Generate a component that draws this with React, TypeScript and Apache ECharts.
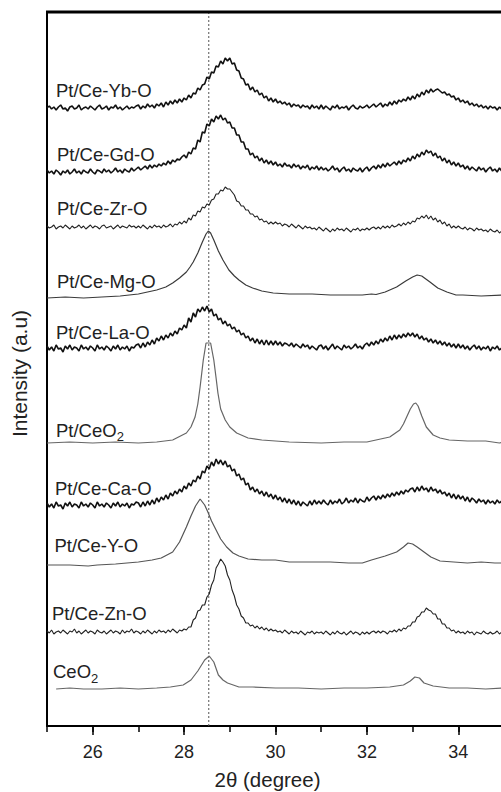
import React, { useEffect, useRef } from "react";
import * as echarts from "echarts";

// ---------- data ----------
const X_START = 25;
const X_STEP = 0.05;
const X_MIN = 25;
const X_MAX = 35;
const Y_MAX = 714;
const MAJOR_TICKS = [26, 28, 30, 32, 34];
const REF_LINE_X = 28.54;

// noisy patterns sampled every 0.05 deg from 25.0 to 35.0 (stacked intensity, a.u.)
const ybValues = [
  618,620,617,619,616,619,621,617,618,615, 619,620,617,618,621,616,618,619,617,620,
  618,616,619,621,617,618,620,616,619,618, 621,617,619,616,618,620,617,619,618,620,
  621,617,620,618,622,619,621,618,622,620, 623,619,624,621,625,622,626,623,627,624,
  628,626,631,628,633,632,638,636,641,642, 649,647,654,653,660,659,665,662,668,665,
  668,662,663,656,655,648,647,641,642,636, 639,634,636,631,633,628,630,625,628,624,
  627,623,625,622,624,621,623,619,622,620, 621,618,621,619,620,617,621,618,620,617,
  621,617,620,618,616,620,618,621,617,619, 618,620,616,619,621,618,617,620,618,619,
  621,618,620,622,619,621,623,619,622,620, 624,621,625,622,626,624,627,625,629,626,
  630,627,632,629,634,631,636,633,637,634, 636,637,635,633,634,631,632,629,630,626,
  628,624,626,623,625,621,623,620,622,619, 621,618,620,617,620,618,619,616,619,617, 618,
];
const gdValues = [
  556,553,555,552,556,554,551,555,553,556, 552,554,557,553,555,552,556,554,553,557,
  554,552,556,555,553,557,554,556,553,555, 558,554,556,553,557,555,554,558,555,557,
  559,556,558,560,557,561,558,561,559,562, 560,563,561,565,562,566,564,567,566,569,
  571,568,574,572,578,577,586,584,594,593, 602,600,607,604,610,607,611,606,608,603,
  604,598,598,591,591,584,584,577,577,571, 573,568,570,565,568,563,566,562,565,561,
  564,560,562,559,563,560,561,558,562,559, 561,557,560,558,561,556,559,557,560,556,
  559,556,558,555,557,560,556,558,554,557, 559,555,557,554,558,556,555,558,554,557,
  559,555,558,560,557,561,558,562,559,563, 560,562,564,561,565,562,566,564,568,565,
  570,567,572,569,574,571,576,573,575,570, 573,568,570,565,568,563,566,561,564,560,
  563,559,561,557,560,556,559,557,555,559, 556,558,554,557,559,555,557,554,558,555, 557,
];
const zrValues = [
  500,498,499,501,497,499,500,498,501,499, 497,500,498,499,501,498,500,497,499,501,
  498,500,499,497,500,501,498,499,500,497, 499,501,498,500,499,498,501,499,500,498,
  500,498,501,499,497,500,498,501,499,500, 498,501,499,500,502,499,502,501,504,502,
  505,503,508,506,511,510,515,514,519,518, 522,521,526,527,532,532,536,535,539,537,
  537,534,531,525,524,520,520,516,516,512, 512,509,510,506,507,504,505,502,504,502,
  504,502,503,500,502,501,499,502,500,498, 501,499,497,500,498,499,497,498,496,499,
  497,495,498,496,494,497,495,498,496,497, 495,498,496,494,497,496,498,495,497,496,
  498,496,498,499,497,499,497,500,498,500, 498,501,499,500,502,500,503,501,504,502,
  505,504,508,507,510,508,511,507,510,506, 508,504,506,502,504,500,502,498,500,498,
  500,498,497,499,496,498,497,495,498,496, 497,495,496,494,497,495,494,496,493,495, 494,
];
const laValues = [
  380,376,379,375,381,377,378,374,380,377, 381,376,379,378,375,381,377,379,376,380,
  378,375,381,377,379,376,380,378,375,380, 377,381,376,379,377,380,375,379,378,381,
  382,378,383,379,384,381,386,382,388,385, 390,386,391,388,393,390,395,392,398,396,
  401,398,408,404,413,409,417,414,419,415, 420,414,417,410,412,406,408,402,405,400,
  402,397,399,394,396,391,393,388,390,385, 388,383,387,382,386,381,386,381,385,381,
  385,381,384,380,383,382,380,383,379,382, 380,378,382,379,381,377,380,378,376,380,
  381,377,380,376,379,382,377,380,378,376, 381,378,380,377,379,382,378,380,377,381,
  383,380,384,381,385,382,387,384,388,385, 390,386,391,387,391,388,392,389,393,390,
  393,389,392,387,390,386,388,384,387,383, 386,382,385,381,384,380,383,379,382,378,
  382,378,381,377,380,376,379,381,377,380, 376,379,377,380,375,379,377,380,376,378, 377,
];
const caValues = [
  223,219,222,218,224,220,221,217,223,220, 224,219,222,221,218,224,220,222,219,223,
  221,218,224,220,222,219,223,221,218,223, 220,224,219,222,220,223,218,222,221,224,
  223,219,224,220,225,221,226,222,228,224, 229,226,231,227,233,230,235,232,237,234,
  240,237,243,240,246,244,250,247,255,253, 260,257,264,260,267,262,266,261,265,259,
  261,255,257,250,252,246,248,241,243,236, 239,234,237,232,235,230,234,229,232,227,
  231,226,229,224,228,223,227,222,226,221, 225,220,224,222,220,225,221,226,222,225,
  222,226,223,221,226,222,225,223,227,222, 224,228,223,226,224,228,223,227,225,224,
  229,225,228,230,226,230,227,231,228,232, 229,233,230,234,231,235,232,236,234,237,
  238,234,239,235,240,236,238,234,239,235, 237,233,236,232,234,230,233,228,232,227,
  231,227,230,225,229,224,228,226,223,227, 224,226,222,226,223,225,222,226,223,225, 224,
];
const znValues = [
  95,93,96,92,94,95,93,96,94,92, 95,94,97,93,95,92,94,96,93,95,
  94,92,96,94,93,95,92,94,96,93, 95,94,92,96,93,95,94,97,93,95,
  94,92,95,93,96,94,92,95,93,96, 94,95,93,96,94,97,95,93,96,95,
  97,96,99,99,106,108,115,116,121,121, 129,132,141,146,158,162,167,164,160,151,
  146,136,130,121,117,110,108,103,103,100, 101,98,100,97,99,96,98,95,97,95,
  96,94,95,93,96,94,92,95,93,94, 92,95,93,91,94,93,95,92,94,93,
  94,92,95,93,91,94,92,95,93,92, 94,91,93,95,92,94,93,91,94,92,
  94,92,94,95,93,95,93,95,94,92, 95,94,96,94,97,95,98,97,100,100,
  104,104,109,110,114,114,118,116,115,112, 112,107,107,102,102,98,98,95,96,93,
  95,93,94,92,95,93,94,91,94,93, 92,95,93,92,94,92,93,95,92,94, 93,
];

// smooth patterns as [2theta, intensity]
const mgPoints = [
  [25.0,428],[25.4,429],[25.8,428],[26.2,429],[26.6,430],[27.0,432],[27.2,434],[27.4,436],
  [27.6,439],[27.75,443],[27.9,448],[28.05,454],[28.13,459],[28.2,464],[28.3,473],[28.4,484],
  [28.48,492],[28.53,495],[28.58,493],[28.65,486],[28.75,475],[28.85,466],[28.98,456],[29.1,450],
  [29.2,446],[29.35,441],[29.5,438],[29.7,435],[29.95,433],[30.3,432],[30.8,432],[31.2,431],
  [31.6,431],[31.9,431],[32.1,432],[32.2,431.5],[32.4,434],[32.65,439],[32.85,445],[33.0,449],
  [33.1,451],[33.2,450],[33.38,444],[33.55,438],[33.75,434],[33.95,431],[34.1,431],[34.5,430],[35.0,431],
];
const ptCeO2Points = [
  [25.0,283],[25.5,284],[26.0,283],[26.5,284],[27.0,283],[27.4,284],[27.75,286],[28.05,293],
  [28.15,299],[28.24,309],[28.3,322],[28.35,339],[28.42,366],[28.48,383],[28.58,383],[28.65,366],
  [28.7,348],[28.74,333],[28.8,317],[28.9,306],[29.0,299],[29.15,293],[29.4,288],[29.7,286],
  [30.3,284],[31.0,283],[31.5,284],[32.0,284],[32.2,286],[32.5,289],[32.72,296],[32.8,302],
  [32.87,309],[32.95,317],[33.02,322],[33.07,323],[33.12,320],[33.2,310],[33.3,299],[33.45,291],
  [33.6,288],[33.8,286],[34.2,285],[34.6,285],[34.9,283],[35.0,284],
];
const yPoints = [
  [25.0,161],[25.5,161],[25.9,160],[26.1,161],[26.5,162],[27.0,164],[27.3,166],[27.5,168],
  [27.75,174],[27.9,184],[28.05,199],[28.15,210],[28.25,220],[28.35,227],[28.45,221],[28.52,214],
  [28.6,205],[28.7,196],[28.8,187],[28.93,179],[29.07,173],[29.2,170],[29.4,167],[29.7,166],
  [30.0,166],[30.3,164],[30.75,164],[31.2,164],[31.6,163],[31.9,163],[32.1,166],[32.4,170],
  [32.65,174],[32.8,179],[32.9,183],[33.0,182],[33.1,179],[33.25,174],[33.4,169],[33.6,165],
  [33.9,164],[34.2,163],[34.5,164],[34.8,163],[35.0,163],
];
const ceO2Points = [
  [25.2,37],[25.5,38],[25.8,37],[26.2,37],[26.6,38],[27.0,37],[27.4,38],[27.7,39],[27.98,41],
  [28.15,46],[28.3,55],[28.45,66],[28.55,70],[28.65,64],[28.75,51],[28.85,46],[28.95,43],[29.2,39],
  [29.5,39],[30.0,38],[30.5,38],[31.0,37],[31.5,38],[32.0,38],[32.5,39],[32.8,41],[32.95,45],
  [33.05,49],[33.15,48],[33.25,43],[33.45,40],[33.8,38],[34.2,38],[34.6,37],[35.0,38],
];

const sampleNames = [
  "Pt/Ce-Yb-O", "Pt/Ce-Gd-O", "Pt/Ce-Zr-O", "Pt/Ce-Mg-O", "Pt/Ce-La-O",
  "Pt/CeO2", "Pt/Ce-Ca-O", "Pt/Ce-Y-O", "Pt/Ce-Zn-O", "CeO2",
];
const X_TITLE = "2\u03b8 (degree)";
const Y_TITLE = "Intensity (a.u)";

// ---------- helpers ----------
const onGrid = (vals: number[]) =>
  vals.map((v, i) => [Number((X_START + i * X_STEP).toFixed(2)), v]);

const FONT = "'Liberation Sans', Arial, Helvetica, sans-serif";

const GRID_LEFT = 47;
const GRID_TOP = 12;
const GRID_W = 457;
const GRID_H = 714;

export default function App() {
  const ref = useRef<HTMLDivElement>(null);

  useEffect(() => {
    if (!ref.current) return;
    const chart = echarts.init(ref.current, null, { renderer: "svg" });

    const mk = (name: string, data: number[][], color: string, width: number, extra: any = {}) => ({
      name,
      type: "line",
      data,
      xAxisIndex: 0,
      yAxisIndex: 0,
      showSymbol: false,
      symbol: "none",
      silent: true,
      lineStyle: { color, width },
      z: 3,
      ...extra,
    });

    const series: any[] = [
      mk(sampleNames[0], onGrid(ybValues), "#111", 1.6),
      mk(sampleNames[1], onGrid(gdValues), "#111", 1.6),
      mk(sampleNames[2], onGrid(zrValues), "#222", 1.1),
      mk(sampleNames[3], mgPoints, "#3a3a3a", 1.2),
      mk(sampleNames[4], onGrid(laValues), "#111", 1.6),
      mk(sampleNames[5], ptCeO2Points, "#666", 1.2),
      mk(sampleNames[6], onGrid(caValues), "#111", 1.6),
      mk(sampleNames[7], yPoints, "#555", 1.2),
      mk(sampleNames[8], onGrid(znValues), "#222", 1.1),
      mk(sampleNames[9], ceO2Points, "#666", 1.2),
      {
        name: "reference",
        type: "line",
        xAxisIndex: 1,
        yAxisIndex: 1,
        data: [[REF_LINE_X, 0], [REF_LINE_X, 1]],
        showSymbol: false,
        symbol: "none",
        silent: true,
        lineStyle: { type: [2, 2], color: "#555", width: 1 },
        z: 1,
      },
    ];

    const labelPos: [number, number][] = [
      [56, 90], [57, 154.5], [57, 208.5], [57, 281], [56, 332],
      [56, 430], [55, 488], [54.5, 545], [52, 613], [53, 671.5],
    ];
    const textStyle = { fontSize: 18.5, fill: "#222", fontFamily: FONT };
    const graphics: any[] = sampleNames.map((n, i) => {
      const [x, y] = labelPos[i];
      if (n.endsWith("O2")) {
        const base = n.slice(0, -1);
        return {
          type: "text",
          x,
          y,
          silent: true,
          style: {
            text: `{a|${base}}{b|2}`,
            verticalAlign: "middle",
            fontFamily: FONT,
            rich: {
              a: { fontSize: 18.5, lineHeight: 26, fill: "#222", fontFamily: FONT },
              b: { fontSize: 13, lineHeight: 13, verticalAlign: "bottom", fill: "#222", fontFamily: FONT },
            },
          },
        };
      }
      return {
        type: "text",
        x,
        y,
        silent: true,
        style: { ...textStyle, text: n, verticalAlign: "middle" },
      };
    });
    graphics.push({
      type: "text",
      x: 267.5,
      y: 779.5,
      silent: true,
      style: { text: X_TITLE, fontSize: 20.5, fill: "#222", fontFamily: FONT, align: "center", verticalAlign: "middle" },
    });
    graphics.push({
      type: "text",
      x: 19.5,
      y: 373.5,
      rotation: Math.PI / 2,
      silent: true,
      style: { text: Y_TITLE, fontSize: 21, fill: "#222", fontFamily: FONT, align: "center", verticalAlign: "middle" },
    });
    // top frame edge of the plot box
    graphics.push({
      type: "line",
      z: 100,
      silent: true,
      shape: { x1: GRID_LEFT - 1, y1: GRID_TOP, x2: GRID_LEFT + GRID_W, y2: GRID_TOP },
      style: { stroke: "#000", lineWidth: 3 },
    });

    const gridBox = {
      left: GRID_LEFT, top: GRID_TOP, width: GRID_W, height: GRID_H,
      show: false, containLabel: false, outerBoundsMode: "none",
    };

    chart.setOption({
      animation: false,
      backgroundColor: "#fff",
      grid: [{ ...gridBox }, { ...gridBox }],
      xAxis: [
        {
          type: "value",
          gridIndex: 0,
          min: X_MIN,
          max: X_MAX,
          interval: 1,
          position: "bottom",
          axisLine: { show: true, onZero: false, lineStyle: { color: "#000", width: 2 } },
          axisTick: { show: true, length: 6, lineStyle: { color: "#000", width: 1.5 } },
          axisLabel: {
            show: true,
            margin: 17,
            fontSize: 18,
            color: "#222",
            fontFamily: FONT,
            formatter: (v: number) => (MAJOR_TICKS.includes(Math.round(v)) ? String(Math.round(v)) : ""),
          },
          splitLine: { show: false },
        },
        {
          type: "value",
          gridIndex: 1,
          min: X_MIN,
          max: X_MAX,
          interval: 1,
          position: "bottom",
          axisLine: { show: false, onZero: false },
          axisTick: { show: true, length: 9, customValues: MAJOR_TICKS, lineStyle: { color: "#000", width: 1.5 } },
          axisLabel: { show: false },
          splitLine: { show: false },
        },
      ],
      yAxis: [
        {
          type: "value",
          gridIndex: 0,
          min: 0,
          max: Y_MAX,
          axisLine: { show: true, onZero: false, lineStyle: { color: "#000", width: 2 } },
          axisTick: { show: false },
          axisLabel: { show: false },
          splitLine: { show: false },
        },
        {
          type: "value",
          gridIndex: 1,
          min: 0,
          max: 1,
          axisLine: { show: false },
          axisTick: { show: false },
          axisLabel: { show: false },
          splitLine: { show: false },
        },
      ],
      series,
      graphic: graphics,
    });

    return () => chart.dispose();
  }, []);

  return (
    <div
      ref={ref}
      style={{ position: "fixed", left: 0, top: 0, width: 501, height: 792, background: "#fff" }}
    />
  );
}
